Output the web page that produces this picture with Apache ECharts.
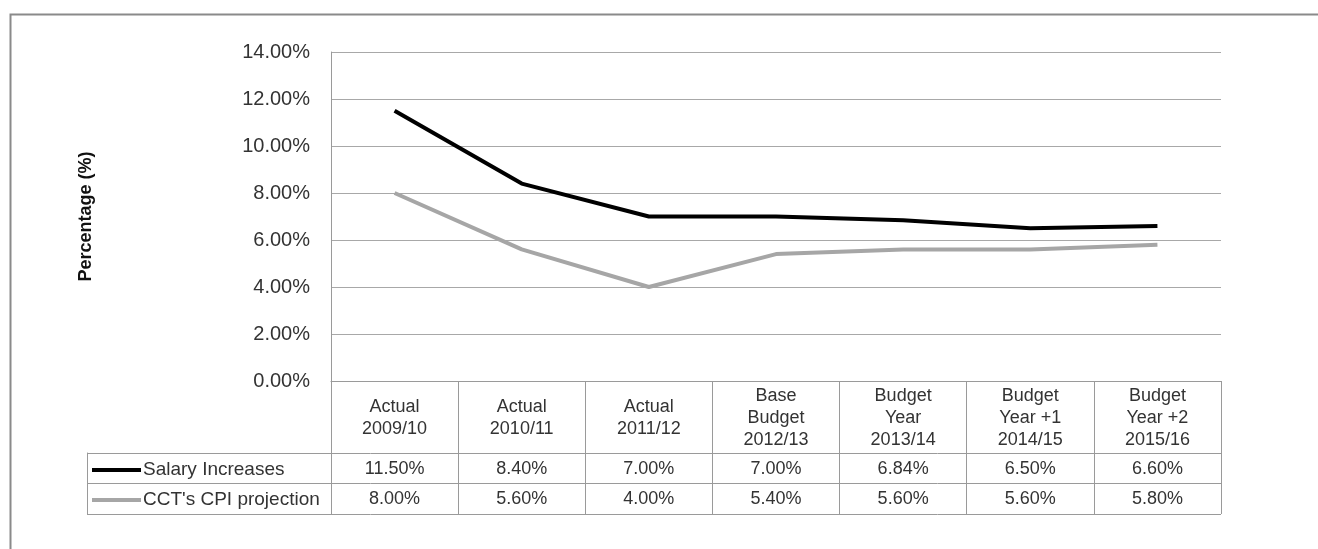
<!DOCTYPE html>
<html>
<head>
<meta charset="utf-8">
<script src="https://cdn.jsdelivr.net/npm/echarts@6/dist/echarts.min.js"></script>
<style>
  html, body { margin: 0; padding: 0; background: #ffffff; }
  #chart { width: 1318px; height: 549px; }
</style>
</head>
<body>
<div id="chart"></div>
<script>
// Category headers (lines separated by \n)
const categories = [
  'Actual\n2009/10',
  'Actual\n2010/11',
  'Actual\n2011/12',
  'Base\nBudget\n2012/13',
  'Budget\nYear\n2013/14',
  'Budget\nYear +1\n2014/15',
  'Budget\nYear +2\n2015/16'
];

// Series values, in percent
const salaryIncreases = [11.50, 8.40, 7.00, 7.00, 6.84, 6.50, 6.60];
const cpiProjection = [8.00, 5.60, 4.00, 5.40, 5.60, 5.60, 5.80];

const seriesNames = ['Salary Increases', "CCT's CPI projection"];

// Value axis ticks
const yMin = 0;
const yMax = 14;
const yStep = 2;

const pct = v => v.toFixed(2) + '%';

const FONT = '"Liberation Sans", Arial, sans-serif';
const TEXT = '#333333';
const RULE = '#a8a8a8';
const TABLE = '#9a9a9a';
const SALARY_COLOR = '#000000';
const CPI_COLOR = '#a6a6a6';

// Flat bar used as the legend key, so the key reads as a plain line
const LINE_KEY = 'path://M0,0 L49,0 L49,4 L0,4 Z';

const chart = echarts.init(document.getElementById('chart'), null, { renderer: 'canvas' });

// Header cell is 72px tall; each header line 22px; pad the block so it sits centred
function cellLabel(value, index) {
  const lines = value.split('\n');
  const pad = (72 - lines.length * 22) / 2;
  const parts = [];
  parts.push('{p' + pad + '| }');
  lines.forEach(l => parts.push('{h|' + l + '}'));
  parts.push('{p' + pad + '| }');
  parts.push('{v|' + pct(salaryIncreases[index]) + '}');
  parts.push('{v|' + pct(cpiProjection[index]) + '}');
  return parts.join('\n');
}

const option = {
  animation: false,
  textStyle: { fontFamily: FONT },
  graphic: [{
    type: 'rect',
    left: 8, top: 12,
    shape: { width: 1330, height: 560 },
    style: { fill: 'none', stroke: '#8a8a8a', lineWidth: 2 },
    silent: true
  }],
  legend: {
    orient: 'vertical',
    left: 87,
    top: 455,
    itemWidth: 49,
    itemHeight: 14,
    itemGap: 10,
    data: [
      { name: seriesNames[0], icon: LINE_KEY, itemStyle: { color: SALARY_COLOR } },
      { name: seriesNames[1], icon: LINE_KEY, itemStyle: { color: CPI_COLOR } }
    ],
    textStyle: { fontFamily: FONT, fontSize: 19, lineHeight: 20, color: TEXT, padding: [0, 0, 0, -3] },
    selectedMode: false
  },
  grid: [
    { left: 331, right: 97, top: 52, bottom: 168, containLabel: false },
    { left: 87, right: 97, top: 453, bottom: 35, containLabel: false }
  ],
  xAxis: [
    {
      type: 'category',
      gridIndex: 0,
      data: categories,
      boundaryGap: true,
      axisLine: { show: true, lineStyle: { color: TABLE, width: 1 } },
      axisTick: { show: true, interval: 0, length: 133, lineStyle: { color: TABLE, width: 1 } },
      axisLabel: {
        interval: 0,
        margin: 1,
        hideOverlap: false,
        formatter: cellLabel,
        rich: {
          p14: { lineHeight: 14, fontSize: 2 },
          p3: { lineHeight: 3, fontSize: 2 },
          h: { fontFamily: FONT, fontSize: 18, lineHeight: 22, color: TEXT },
          v: { fontFamily: FONT, fontSize: 18, lineHeight: 30, color: TEXT }
        }
      },
      splitLine: { show: false }
    },
    {
      type: 'value',
      gridIndex: 1,
      min: 0, max: 1,
      show: false
    }
  ],
  yAxis: [
    {
      type: 'value',
      gridIndex: 0,
      min: yMin, max: yMax, interval: yStep,
      name: 'Percentage (%)',
      nameLocation: 'middle',
      nameGap: 236,
      nameTextStyle: { fontFamily: FONT, fontSize: 18, fontWeight: 'bold', color: '#111' },
      axisLine: { show: true, lineStyle: { color: TABLE, width: 1 } },
      axisTick: { show: false },
      axisLabel: {
        formatter: v => pct(v),
        fontFamily: FONT, fontSize: 20, color: TEXT, margin: 21
      },
      splitLine: { show: true, lineStyle: { color: RULE, width: 1 } }
    },
    {
      type: 'category',
      gridIndex: 1,
      data: seriesNames,
      inverse: true,
      boundaryGap: true,
      axisLine: { show: true, lineStyle: { color: TABLE, width: 1 } },
      axisTick: { show: false },
      axisLabel: { show: false },
      splitLine: { show: true, interval: 0, lineStyle: { color: TABLE, width: 1 } }
    }
  ],
  series: [
    {
      name: seriesNames[0],
      type: 'line',
      xAxisIndex: 0, yAxisIndex: 0,
      data: salaryIncreases,
      symbol: 'none',
      lineStyle: { color: SALARY_COLOR, width: 4 },
      itemStyle: { color: SALARY_COLOR }
    },
    {
      name: seriesNames[1],
      type: 'line',
      xAxisIndex: 0, yAxisIndex: 0,
      data: cpiProjection,
      symbol: 'none',
      lineStyle: { color: CPI_COLOR, width: 4 },
      itemStyle: { color: CPI_COLOR }
    }
  ]
};

chart.setOption(option);
</script>
</body>
</html>
